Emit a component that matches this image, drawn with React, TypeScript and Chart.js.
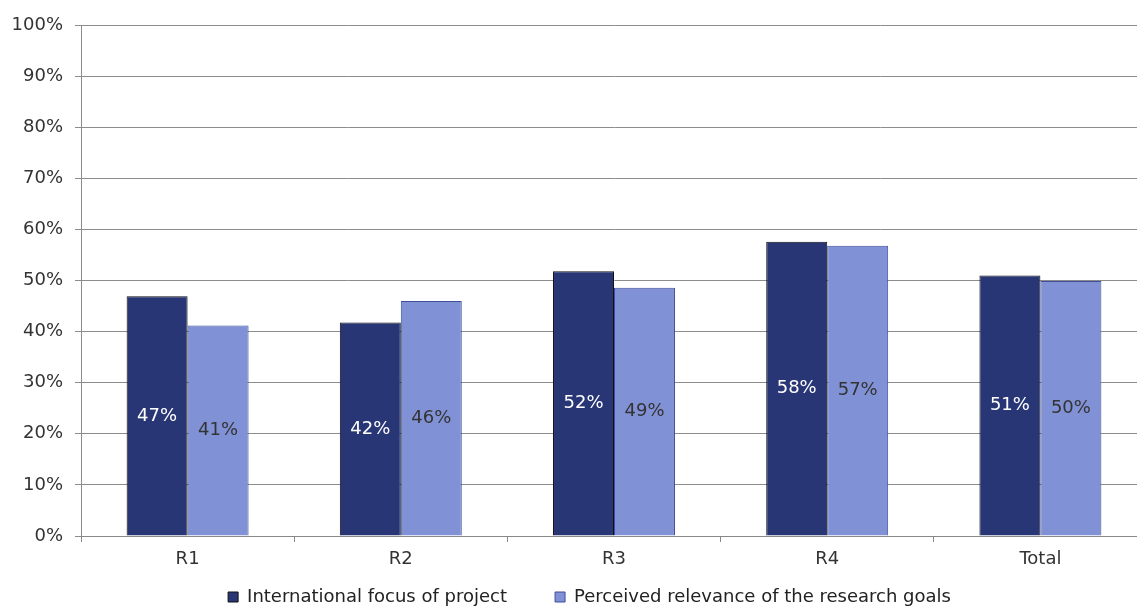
import React, { useEffect, useRef } from "react";
import { Chart, registerables } from "chart.js";

Chart.register(...registerables);

const categories = ["R1", "R2", "R3", "R4", "Total"];
const focusValues = [46.9, 41.8, 51.8, 57.6, 51.0];
const relevanceValues = [41.2, 46.0, 48.6, 56.8, 49.9];
const seriesNames = ["International focus of project", "Perceived relevance of the research goals"];
const yTicks = [0, 10, 20, 30, 40, 50, 60, 70, 80, 90, 100];

const FONT = "'DejaVu Sans', Verdana, sans-serif";

const labelPlugin = {
  id: "barLabels",
  afterDatasetsDraw(chart: any) {
    const ctx = chart.ctx;
    ctx.save();
    ctx.font = `18px ${FONT}`;
    ctx.textAlign = "center";
    ctx.textBaseline = "middle";
    chart.data.datasets.forEach((ds: any, di: number) => {
      const meta = chart.getDatasetMeta(di);
      meta.data.forEach((bar: any, i: number) => {
        const v = ds.data[i];
        const y = (bar.y + bar.base) / 2;
        ctx.fillStyle = di === 0 ? "#ffffff" : "#333333";
        ctx.fillText(Math.round(v) + "%", bar.x, y);
      });
    });
    ctx.restore();
  },
};

const legendShift = {
  id: "legendShift",
  afterLayout(chart: any) {
    const lg = chart.legend;
    if (!lg) return;
    lg.left += 16;
    lg.right += 16;
    lg.top += 8;
    lg.bottom += 8;
  },
};

export default function App() {
  const ref = useRef<HTMLCanvasElement>(null);
  useEffect(() => {
    const chart = new Chart(ref.current!, {
      type: "bar",
      data: {
        labels: categories,
        datasets: [
          {
            label: seriesNames[0],
            data: focusValues,
            backgroundColor: "#283676",
            borderColor: "#111111",
            borderWidth: 1,
          },
          {
            label: seriesNames[1],
            data: relevanceValues,
            backgroundColor: "#8091d6",
            borderColor: "#3f4f9a",
            borderWidth: 1,
          },
        ],
      },
      options: {
        animation: false,
        responsive: false,
        maintainAspectRatio: false,
        layout: { padding: { top: 25, right: 0, left: 0, bottom: 0 } },
        datasets: { bar: { categoryPercentage: 0.572, barPercentage: 1 } },
        plugins: {
          legend: {
            position: "bottom",
            labels: {
              font: { family: FONT, size: 18 },
              color: "#222222",
              boxWidth: 10,
              boxHeight: 10,
              padding: 8,
              generateLabels: (chart: any) => {
                const items = Chart.defaults.plugins.legend.labels.generateLabels(chart);
                return items.map((it: any, i: number) => ({
                  ...it,
                  text: i === 0 ? it.text + "       " : it.text,
                }));
              },
            },
          },
          tooltip: { enabled: false },
          title: { display: false },
        },
        scales: {
          x: {
            grid: { drawOnChartArea: false, offset: true, tickLength: 6, color: "#888888" },
            border: { color: "#888888" },
            ticks: { font: { family: FONT, size: 18 }, color: "#333333", padding: 7 },
            afterFit: (s: any) => { s.height = 36; },
          },
          y: {
            min: 0,
            max: 100,
            afterBuildTicks: (s: any) => { s.ticks = yTicks.map((v) => ({ value: v })); },
            grid: { color: "#8c8c8c", tickLength: 6 },
            border: { color: "#8c8c8c" },
            ticks: {
              font: { family: FONT, size: 18 },
              color: "#333333",
              padding: 12,
              callback: (v: any) => v + "%",
            },
            afterFit: (s: any) => { s.width = 81; },
          },
        },
      },
      plugins: [labelPlugin, legendShift],
    });
    return () => chart.destroy();
  }, []);
  return (
    <div style={{ position: "fixed", left: 0, top: 0, width: 1137, height: 608, overflow: "hidden", background: "#fff" }}>
      <canvas ref={ref} width={1147} height={608} style={{ width: 1147, height: 608, display: "block" }} />
    </div>
  );
}
